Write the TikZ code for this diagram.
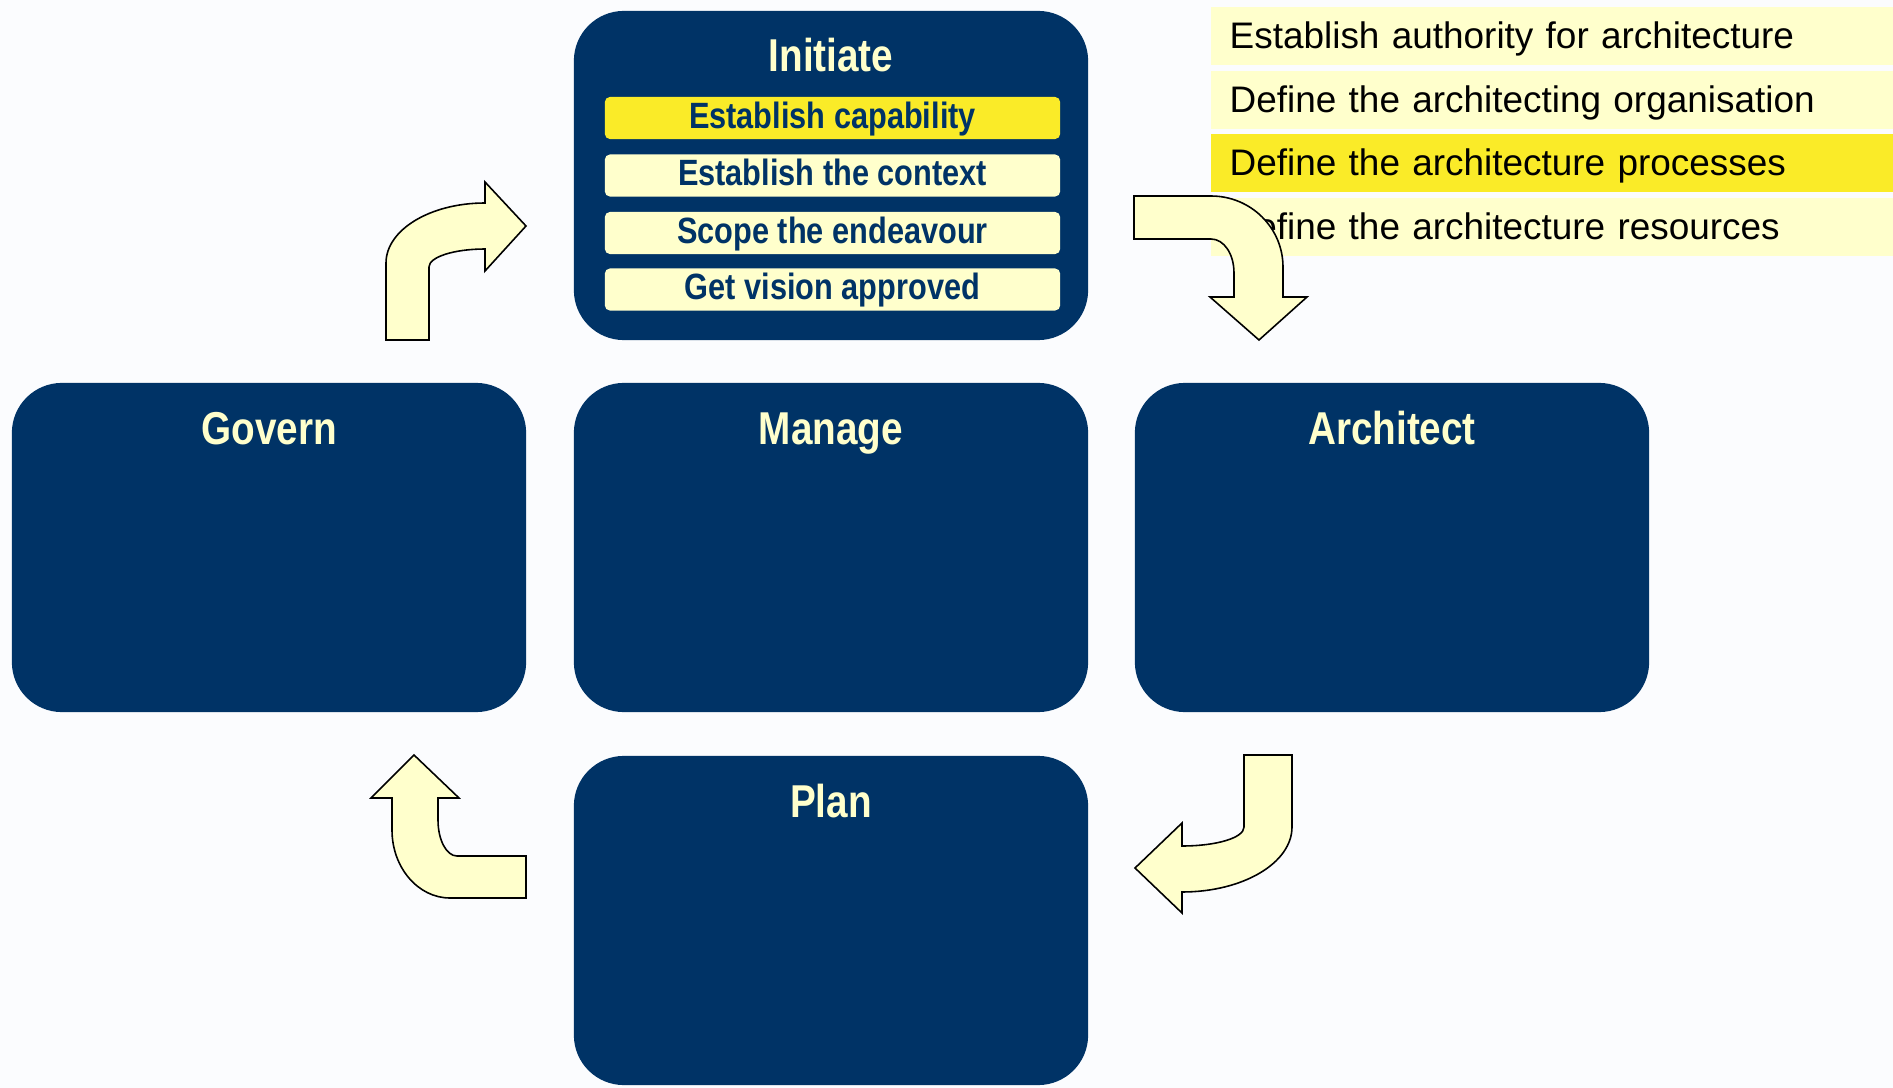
\documentclass[tikz,border=0pt]{standalone}
\usepackage{fontspec}
\setmainfont{Liberation Sans}
\newfontfamily\narrowfont{Liberation Sans}[FakeStretch=0.84]
\usepackage{tikz}
\usetikzlibrary{positioning}

\definecolor{navy}{RGB}{0,51,102}
\definecolor{paleyellow}{RGB}{255,255,204}
\definecolor{brightyellow}{RGB}{250,235,40}
\definecolor{backdrop}{RGB}{251,252,254}

\tikzset{
  phase/.style={fill=navy, rounded corners=0.5cm, minimum width=5.14cm, minimum height=3.29cm, inner sep=0pt},
  phasetitle/.style={anchor=base, inner sep=0pt, text=paleyellow, font=\narrowfont\bfseries\fontsize{13.1}{15}\selectfont},
  task/.style={fill=paleyellow, rounded corners=0.05cm, minimum width=4.55cm, minimum height=0.42cm, inner sep=0pt,
    text height=0.31cm, text depth=0.11cm, text=navy, font=\narrowfont\bfseries\fontsize{10.4}{12}\selectfont},
  activity/.style={fill=paleyellow, anchor=north west, inner xsep=0.19cm, inner ysep=0pt, text width=6.45cm, align=left,
    text height=0.42cm, text depth=0.16cm, font=\fontsize{10.5}{12}\selectfont},
  turn/.style={fill=paleyellow, draw=black, line width=0.45pt, line join=miter}
}

\begin{document}
\begin{tikzpicture}[x=0.01cm, y=-0.01cm]
\fill[backdrop] (0,0) rectangle (1893,1088);
\useasboundingbox (0,0) rectangle (1893,1088);

%activities of the highlighted step
\node[activity] (authority) at (1210,6) {Establish authority for architecture};
\node[activity] (organisation) at (1210,70) {Define the architecting organisation};
\node[activity, fill=brightyellow] (processes) at (1210,133) {Define the architecture processes};
\node[activity] (resources) at (1210,197) {Define the architecture resources};

\node[phase] (initiate) at (831,175.5) {};
\node[phase] (govern) at (269,547.5) {};
\node[phase] (manage) at (831,547.5) {};
\node[phase] (architect) at (1392,547.5) {};
\node[phase] (plan) at (831,920.5) {};

\node[phasetitle] (initiatetitle) at (831,72) {Initiate};
\node[phasetitle] (governtitle) at (269,445) {Govern};
\node[phasetitle] (managetitle) at (831,445) {Manage};
\node[phasetitle] (architecttitle) at (1392,445) {Architect};
\node[phasetitle] (plantitle) at (831,817) {Plan};

\node[task, fill=brightyellow] (capability) at (832.5,118) {Establish capability};
\node[task] (context) at (832.5,175.5) {Establish the context};
\node[task] (endeavour) at (832.5,233) {Scope the endeavour};
\node[task] (vision) at (832.5,289.5) {Get vision approved};

%cycle arrows
\draw[turn] (386,340) -- (386,263) .. controls (386,230) and (430,203) .. (485,203) -- (485,182) -- (526,226)
  -- (485,271) -- (485,249) .. controls (454,249) and (429,257) .. (429,267) -- (429,340) -- cycle;
\draw[turn] (1134,196) -- (1211,196) .. controls (1251,196) and (1283,228) .. (1283,267) -- (1283,297) -- (1307,297)
  -- (1259,340) -- (1210,297) -- (1234,297) -- (1234,273) .. controls (1234,254) and (1224,239) .. (1211,239) -- (1134,239) -- cycle;
\draw[turn] (1244,755) -- (1292,755) -- (1292,827) .. controls (1292,863) and (1243,892) .. (1182,892) -- (1182,913)
  -- (1135,868) -- (1182,823) -- (1182,846) .. controls (1216,846) and (1244,838) .. (1244,827) -- cycle;
\draw[turn] (526,856) -- (526,898) -- (450,898) .. controls (418,898) and (392,867.5) .. (392,830) -- (392,798) -- (371,798)
  -- (414,755) -- (459,798) -- (438,798) -- (438,820) .. controls (438,840) and (446.5,856) .. (457,856) -- cycle;

\end{tikzpicture}
\end{document}
